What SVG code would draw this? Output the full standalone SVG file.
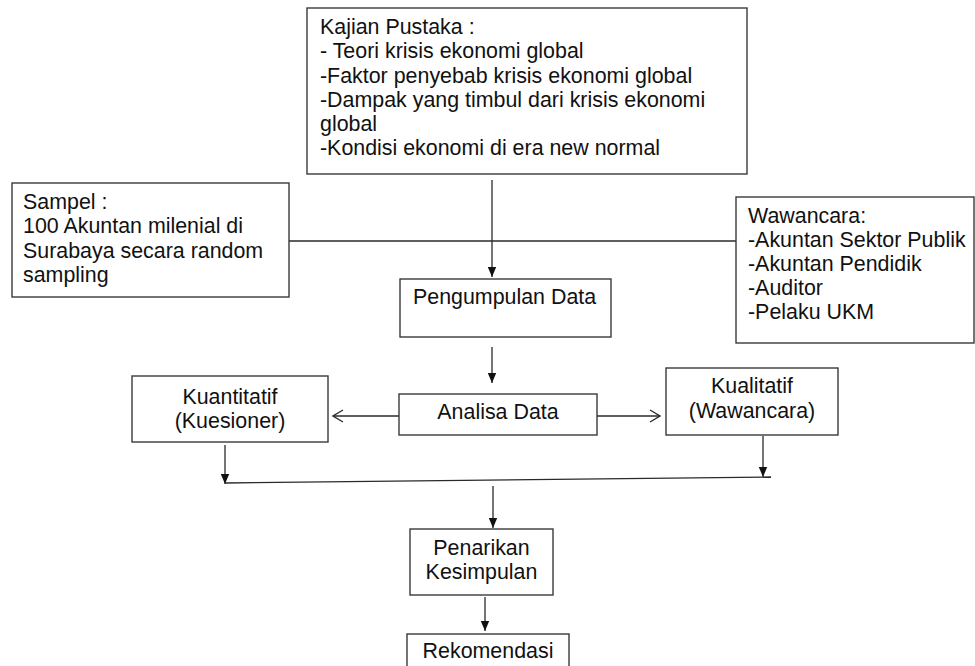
<svg xmlns="http://www.w3.org/2000/svg" width="975" height="666" viewBox="0 0 975 666">
<defs>
<style>
.box{fill:#fff;stroke:#3a3a3a;stroke-width:1.4}
.t{font-family:"Liberation Sans",Arial,sans-serif;font-size:21.4px;fill:#111}
.c{text-anchor:middle}
.ln{fill:none;stroke:#2a2a2a;stroke-width:1.3}
</style>
<marker id="fa" markerUnits="userSpaceOnUse" markerWidth="10" markerHeight="10" viewBox="0 0 10 10" refX="10" refY="5" orient="auto">
<path d="M0,0.8 L10,5 L0,9.2 Z" fill="#111"/>
</marker>
<marker id="oa" markerUnits="userSpaceOnUse" markerWidth="12" markerHeight="14" viewBox="0 0 12 14" refX="11" refY="7" orient="auto">
<path d="M1,1 L11,7 L1,13" fill="none" stroke="#2a2a2a" stroke-width="1.3"/>
</marker>
</defs>
<rect width="975" height="666" fill="#fff"/>

<g id="connectors">
<line class="ln" x1="289" y1="241" x2="736" y2="241"/>
<line class="ln" x1="492" y1="180" x2="492" y2="277" marker-end="url(#fa)"/>
<line class="ln" x1="492" y1="347" x2="492" y2="383" marker-end="url(#fa)"/>
<line class="ln" x1="399" y1="416" x2="333" y2="416" marker-end="url(#oa)"/>
<line class="ln" x1="597" y1="416" x2="660" y2="416" marker-end="url(#oa)"/>
<line class="ln" x1="225" y1="445" x2="225" y2="484" marker-end="url(#fa)"/>
<line class="ln" x1="763" y1="436" x2="763" y2="477" marker-end="url(#fa)"/>
<line class="ln" x1="225" y1="483" x2="771" y2="477"/>
<line class="ln" x1="493" y1="486" x2="493" y2="528" marker-end="url(#fa)"/>
<line class="ln" x1="485" y1="597" x2="485" y2="631" marker-end="url(#fa)"/>
</g>

<g id="kajian">
<rect class="box" x="307" y="8" width="440" height="166"/>
<text class="t" x="320" y="34">Kajian Pustaka :</text>
<text class="t" x="320" y="58">- Teori krisis ekonomi global</text>
<text class="t" x="320" y="82.5">-Faktor penyebab krisis ekonomi global</text>
<text class="t" x="320" y="107">-Dampak yang timbul dari krisis ekonomi</text>
<text class="t" x="320" y="131">global</text>
<text class="t" x="320" y="155">-Kondisi ekonomi di era new normal</text>
</g>

<g id="sampel">
<rect class="box" x="12" y="183" width="277" height="114"/>
<text class="t" x="23" y="209">Sampel :</text>
<text class="t" x="23" y="233.3">100 Akuntan milenial di</text>
<text class="t" x="23" y="257.6">Surabaya secara random</text>
<text class="t" x="23" y="282">sampling</text>
</g>

<g id="wawancara">
<rect class="box" x="736" y="197" width="238" height="146"/>
<text class="t" x="748" y="223">Wawancara:</text>
<text class="t" x="748" y="247">-Akuntan Sektor Publik</text>
<text class="t" x="748" y="271">-Akuntan Pendidik</text>
<text class="t" x="748" y="295">-Auditor</text>
<text class="t" x="748" y="319">-Pelaku UKM</text>
</g>

<g id="pengumpulan">
<rect class="box" x="400" y="279" width="211" height="58"/>
<text class="t" x="413" y="304">Pengumpulan Data</text>
</g>

<g id="analisa">
<rect class="box" x="399" y="394" width="198" height="41"/>
<text class="t c" x="498" y="419">Analisa Data</text>
</g>

<g id="kuantitatif">
<rect class="box" x="132" y="376" width="196" height="66"/>
<text class="t c" x="230" y="403.5">Kuantitatif</text>
<text class="t c" x="230" y="427.5">(Kuesioner)</text>
</g>

<g id="kualitatif">
<rect class="box" x="666" y="368" width="172" height="67"/>
<text class="t c" x="752" y="393">Kualitatif</text>
<text class="t c" x="752" y="417.5">(Wawancara)</text>
</g>

<g id="penarikan">
<rect class="box" x="410" y="529" width="143" height="66"/>
<text class="t c" x="481.5" y="555">Penarikan</text>
<text class="t c" x="481.5" y="579">Kesimpulan</text>
</g>

<g id="rekomendasi">
<rect class="box" x="407" y="634" width="162" height="40"/>
<text class="t c" x="488" y="658">Rekomendasi</text>
</g>
</svg>
